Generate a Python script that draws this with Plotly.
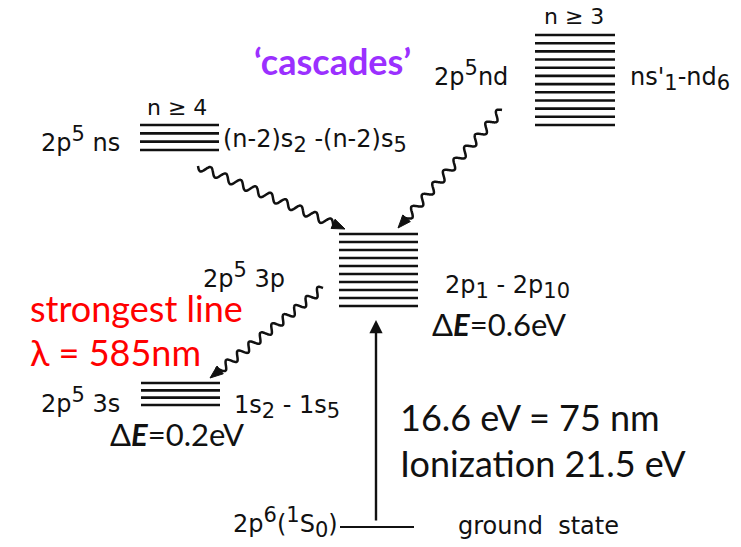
import numpy as np
import plotly.graph_objects as go

PS = 24      # paper label font size
SS = 21      # sub/superscript size (px)


def sup(s):
    return f"<sup><span style='font-size:{SS}px'>{s}</span></sup>"


def sub(s):
    return f"<sub><span style='font-size:{SS}px'>{s}</span></sub>"


# ---------------- data ----------------
level_names = ["2p5ns", "2p5nd", "2p1-2p10", "2p53s", "ground"]
level_counts = [4, 12, 10, 4, 1]
level_labels_left = ["2p" + sup("5") + " ns", "2p" + sup("5") + "nd", "2p" + sup("5") + " 3p",
                     "2p" + sup("5") + " 3s", "2p" + sup("6") + "(" + sup("1") + "S" + sub("0") + ")"]
level_labels_right = ["(n-2)s" + sub("2") + " -(n-2)s" + sub("5"), "ns'" + sub("1") + "-nd" + sub("6"),
                      "2p" + sub("1") + " - 2p" + sub("10"), "1s" + sub("2") + " - 1s" + sub("5"), "ground  state"]
n_labels = ["n ≥ 4", "n ≥ 3"]
delta_e = ["Δ<b><i>E</i></b>=0.6eV", "Δ<b><i>E</i></b>=0.2eV"]
red_text = ["strongest line", "λ = 585nm"]
excite_text = ["16.6 eV = 75 nm", "Ionization 21.5 eV"]
cascade_text = "‘cascades’"

# ---------------- layout (pixel space) ----------------
W, H = 741, 547
blocks = {
    "2p5ns": (140, 219, 125, 150),
    "2p5nd": (535, 615, 35, 125),
    "2p1-2p10": (339, 418, 234, 306),
    "2p53s": (141, 220, 383, 405),
    "ground": (340, 414, 527, 527),
}

fig = go.Figure()
BLACK = "#111111"

for name, cnt in zip(level_names, level_counts):
    x0, x1, yt, yb = blocks[name]
    ys = np.linspace(yt, yb, cnt) if cnt > 1 else np.array([yt])
    xs, yy = [], []
    for y in ys:
        xs += [x0, x1, None]
        yy += [y, y, None]
    fig.add_trace(go.Scatter(x=xs, y=yy, mode="lines",
                             line=dict(color=BLACK, width=2.6 if cnt > 1 else 2),
                             hoverinfo="skip", showlegend=False))

waves = [((198, 166), (345, 229), 9),
         ((502, 110), (398, 228), 9),
         ((323, 288), (210, 378), 9)]


def wavy(p0, p1, n, amp=4.0):
    p0 = np.array(p0, float)
    p1 = np.array(p1, float)
    d = p1 - p0
    L = np.hypot(*d)
    u = d / L
    nrm = np.array([-u[1], u[0]])
    head = 13
    t = np.linspace(0, L - head + 3, 300)
    off = amp * np.sin(2 * np.pi * n * t / (L - head))
    pts = p0[None, :] + t[:, None] * u[None, :] + off[:, None] * nrm[None, :]
    base = p1 - head * u
    tri = np.array([p1, base + 5 * nrm, base - 5 * nrm, p1])
    return pts, tri


for p0, p1, n in waves:
    pts, tri = wavy(p0, p1, n)
    fig.add_trace(go.Scatter(x=pts[:, 0], y=pts[:, 1], mode="lines",
                             line=dict(color=BLACK, width=2.5, shape="spline"),
                             hoverinfo="skip", showlegend=False))
    fig.add_trace(go.Scatter(x=tri[:, 0], y=tri[:, 1], mode="lines", fill="toself",
                             fillcolor=BLACK, line=dict(color=BLACK, width=1),
                             hoverinfo="skip", showlegend=False))

fig.add_annotation(x=376, y=320, ax=376, ay=522, xref="x", yref="y", axref="x", ayref="y",
                   text="", showarrow=True, arrowhead=2, arrowsize=1.1, arrowwidth=2.4,
                   arrowcolor=BLACK)

PAPER = "DejaVu Sans"
SLIDE = "Lato"


def txt(x, y, s, size, color=BLACK, family=PAPER, anchor="left"):
    fig.add_annotation(x=x, y=y, xref="x", yref="y", text=s, showarrow=False,
                       xanchor=anchor, yanchor="middle",
                       font=dict(family=family, size=size, color=color))


txt(122, 139, level_labels_left[0], PS, anchor="right")
txt(221, 141, level_labels_right[0], PS)
txt(510, 73, level_labels_left[1], PS, anchor="right")
txt(628, 79, level_labels_right[1], PS)
txt(287, 275, level_labels_left[2], PS, anchor="right")
txt(443, 287, level_labels_right[2], PS)
txt(122, 400, level_labels_left[3], PS, anchor="right")
txt(232, 407, level_labels_right[3], PS)
txt(340, 522, level_labels_left[4], PS, anchor="right")
txt(456, 526, level_labels_right[4], PS)
txt(145, 107, n_labels[0], 22)
txt(542, 16, n_labels[1], 22)

txt(252, 61, "<b>" + cascade_text + "</b>", 36, color="#9B30FF", family=SLIDE)
txt(430, 324, delta_e[0], 31, family=SLIDE)
txt(108, 434, delta_e[1], 31, family=SLIDE)
txt(28, 308, red_text[0], 36, color="#FF0000", family=SLIDE)
txt(28, 352, red_text[1], 36, color="#FF0000", family=SLIDE)
txt(398, 417, excite_text[0], 36, family=SLIDE)
txt(398, 463, excite_text[1], 36, family=SLIDE)

fig.update_layout(width=W, height=H, margin=dict(l=0, r=0, t=0, b=0),
                  plot_bgcolor="white", paper_bgcolor="white",
                  xaxis=dict(range=[0, W], visible=False, fixedrange=True),
                  yaxis=dict(range=[H, 0], visible=False, fixedrange=True),
                  showlegend=False)
fig.write_html("out.html")
